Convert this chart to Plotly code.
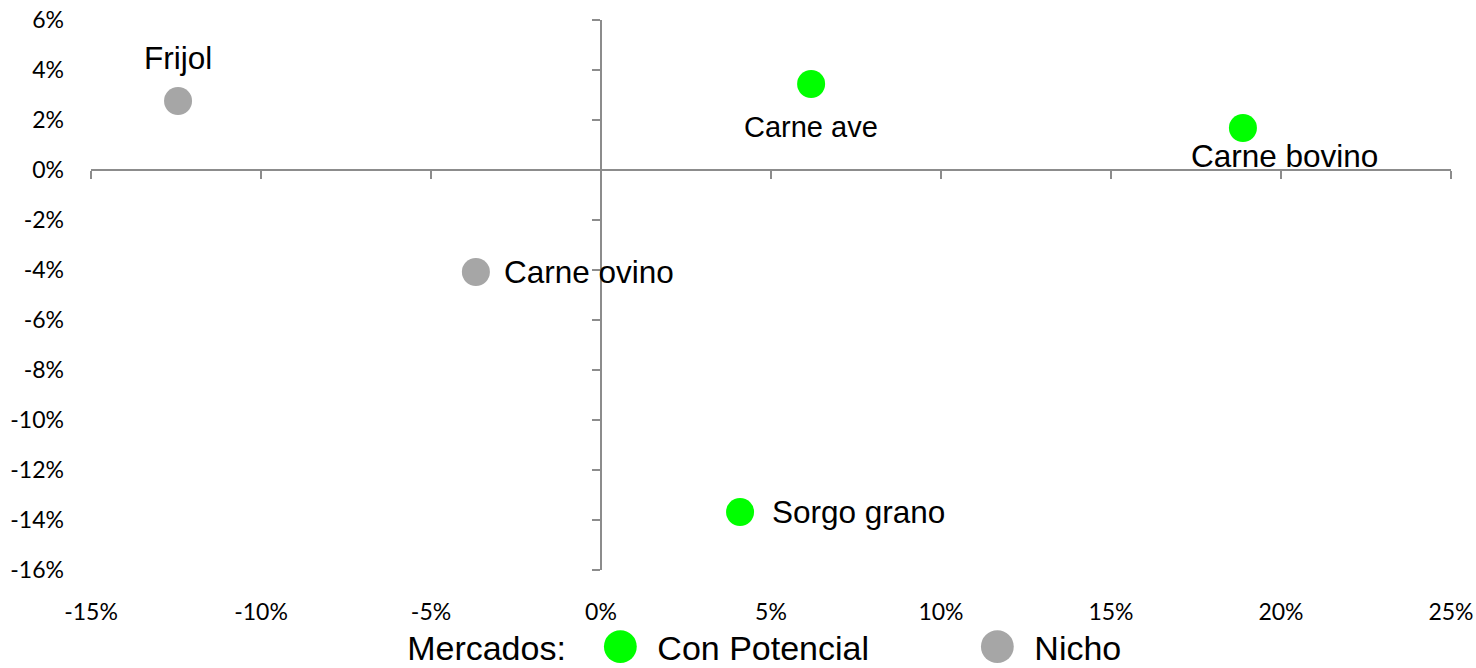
import plotly.graph_objects as go

# Growth of each product (x: market growth, y: share change), as fractions
productos = ["Frijol", "Carne ave", "Carne bovino", "Carne ovino", "Sorgo grano"]
crecimiento_x = [-0.1244, 0.0618, 0.1888, -0.0368, 0.0409]
crecimiento_y = [0.0276, 0.0344, 0.0168, -0.0408, -0.1368]
mercado = ["Nicho", "Con Potencial", "Con Potencial", "Nicho", "Con Potencial"]

grupos = ["Con Potencial", "Nicho"]
colores = {"Con Potencial": "#00FF00", "Nicho": "#A6A6A6"}

x_ticks = [-0.15, -0.10, -0.05, 0.0, 0.05, 0.10, 0.15, 0.20, 0.25]
x_ticktext = ["-15%", "-10%", "-5%", "0%", "5%", "10%", "15%", "20%", "25%"]
y_ticks = [0.06, 0.04, 0.02, 0.0, -0.02, -0.04, -0.06, -0.08, -0.10, -0.12, -0.14, -0.16]
y_ticktext = ["6%", "4%", "2%", "0%", "-2%", "-4%", "-6%", "-8%", "-10%", "-12%", "-14%", "-16%"]

# label placement per product: (xanchor, xshift, yshift, font size)
etiqueta_pos = {
    "Frijol": ("center", 0, 43, 31.5),
    "Carne ave": ("center", 0, -43, 29),
    "Carne bovino": ("center", 42, -28, 31.5),
    "Carne ovino": ("left", 26, 0, 31.5),
    "Sorgo grano": ("left", 30, 0, 31.5),
}

X_RANGE = [-0.15, 0.25]
Y_RANGE = [-0.16, 0.06]
AXIS_GRAY = "#8C8C8C"

fig = go.Figure()

for g in grupos:
    idx = [i for i, m in enumerate(mercado) if m == g]
    fig.add_trace(go.Scatter(
        x=[crecimiento_x[i] for i in idx],
        y=[crecimiento_y[i] for i in idx],
        mode="markers",
        name=g,
        marker=dict(size=28, color=colores[g]),
        hoverinfo="skip",
    ))

# empty trace so the crossing axes at zero are drawn
fig.add_trace(go.Scatter(x=[None], y=[None], xaxis="x2", yaxis="y2",
                         showlegend=False, hoverinfo="skip"))

for i, p in enumerate(productos):
    xa, xs, ys, fs = etiqueta_pos[p]
    fig.add_annotation(
        x=crecimiento_x[i], y=crecimiento_y[i], text=p, showarrow=False,
        xanchor=xa, yanchor="middle", xshift=xs, yshift=ys,
        font=dict(family="Liberation Sans, Arial", size=fs, color="#000000"),
    )

tick_font = dict(family="Lato, Calibri, sans-serif", size=23, color="#000000")
legend_font = dict(family="Liberation Sans, Arial", size=34, color="#000000")

fig.update_layout(
    width=1476, height=668,
    margin=dict(l=91, r=25, t=20, b=98, autoexpand=False),
    paper_bgcolor="white", plot_bgcolor="white",
    xaxis=dict(
        range=X_RANGE, tickvals=x_ticks, ticktext=x_ticktext,
        showgrid=False, zeroline=False, showline=False, ticks="",
        tickfont=tick_font, ticklabelstandoff=26,
    ),
    yaxis=dict(
        range=Y_RANGE, tickvals=y_ticks, ticktext=y_ticktext,
        showgrid=False, zeroline=False, showline=False, ticks="",
        tickfont=tick_font, ticklabelstandoff=26,
    ),
    xaxis2=dict(
        overlaying="x", range=X_RANGE, tickvals=x_ticks,
        anchor="free", position=(0 - Y_RANGE[0]) / (Y_RANGE[1] - Y_RANGE[0]),
        showline=True, linecolor=AXIS_GRAY, linewidth=2,
        ticks="outside", ticklen=8, tickwidth=2, tickcolor=AXIS_GRAY,
        showticklabels=False, showgrid=False, zeroline=False,
    ),
    yaxis2=dict(
        overlaying="y", range=Y_RANGE, tickvals=y_ticks,
        anchor="free", position=(0 - X_RANGE[0]) / (X_RANGE[1] - X_RANGE[0]),
        showline=True, linecolor=AXIS_GRAY, linewidth=2,
        ticks="outside", ticklen=8, tickwidth=2, tickcolor=AXIS_GRAY,
        showticklabels=False, showgrid=False, zeroline=False,
    ),
    legend=dict(
        orientation="h", x=0.2310, xanchor="left", y=-0.140, yanchor="middle",
        title=dict(text="Mercados: ", side="left", font=legend_font),
        font=legend_font,
        itemwidth=64, entrywidth=298,
        bgcolor="rgba(0,0,0,0)",
    ),
    showlegend=True,
)

# enlarge the legend symbols to the size of the plotted markers and
# put the legend title on the same baseline as the entries
post = """
var gd = document.getElementsByClassName('plotly-graph-div')[0];
function bigLegend(){
  var pts = gd.querySelectorAll('.legend .legendpoints path.scatterpts');
  pts.forEach(function(p){
    var t = p.getAttribute('transform') || '';
    if (t.indexOf('scale') < 0) { p.setAttribute('transform', t + ' scale(2.05)'); }
  });
  var tt = gd.querySelector('.legend .legendtitletext');
  if (tt && !tt.getAttribute('data-shifted')) {
    var tr = tt.getAttribute('transform') || '';
    tt.setAttribute('transform', tr + ' translate(0,-2)');
    tt.setAttribute('data-shifted', '1');
  }
}
bigLegend();
gd.on('plotly_afterplot', bigLegend);
"""

fig.write_html("out.html", post_script=post)
